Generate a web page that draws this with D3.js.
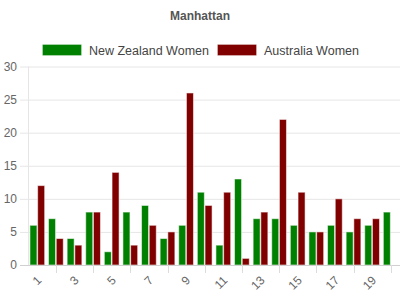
<!DOCTYPE html>
<html>
<head>
<meta charset="utf-8">
<script src="https://cdn.jsdelivr.net/npm/d3@7"></script>
<style>
  body { margin: 0; background: #fff; }
  text { font-family: "Liberation Sans", Arial, sans-serif; }
</style>
</head>
<body>
<script>
// chart data
var overs = ["1","2","3","4","5","6","7","8","9","10","11","12","13","14","15","16","17","18","19","20"];
var nzWomen = [6, 7, 4, 8, 2, 8, 9, 4, 6, 11, 3, 13, 7, 7, 6, 5, 6, 5, 6, 8];
var ausWomen = [12, 4, 3, 8, 14, 3, 6, 5, 26, 9, 11, 1, 8, 22, 11, 5, 10, 7, 7, null];
var seriesNames = ["New Zealand Women", "Australia Women"];
var seriesColors = ["#008000", "#800000"];
var yTicks = [0, 5, 10, 15, 20, 25, 30];

var svgWidth = 400;
var svgHeight = 300;

var svg = d3.select("body")
    .append("svg")
    .attr("width", svgWidth)
    .attr("height", svgHeight);

// plot area edges
var plotLeft = 28, plotRight = 400, plotTop = 66.5, plotBottom = 265;

var x = d3.scaleBand()
    .domain(overs)
    .range([plotLeft, plotRight]);

var xInner = d3.scaleBand()
    .domain([0, 1])
    .range([0, x.bandwidth()])
    .paddingInner(0.09)
    .paddingOuter(0.25);

var y = d3.scaleLinear()
    .domain([0, 30])
    .range([plotBottom, plotTop]);

// title
svg.append("text")
    .attr("x", 200)
    .attr("y", 20)
    .attr("text-anchor", "middle")
    .style("font-size", "12px")
    .style("font-weight", "bold")
    .style("fill", "#555")
    .text("Manhattan");

// legend
var legendX = [42, 217];
seriesNames.forEach(function(name, i) {
    svg.append("rect")
        .attr("x", legendX[i] + 0.5)
        .attr("y", 44.5)
        .attr("width", 39)
        .attr("height", 11)
        .attr("fill", seriesColors[i])
        .attr("stroke", "#fff")
        .attr("stroke-opacity", 0.3);
    svg.append("text")
        .attr("x", legendX[i] + 47)
        .attr("y", 54.5)
        .style("font-size", "12.5px")
        .style("fill", "#444")
        .text(name);
});

// gridlines
var yg = svg.append("g")
    .attr("transform", "translate(400,0)")
    .call(d3.axisLeft(y).tickValues(yTicks).tickSize(380).tickFormat(""));
yg.select(".domain").remove();
yg.selectAll("line").attr("stroke", "#e6e6e6");

// y labels
svg.selectAll(".ylab")
    .data(yTicks)
    .enter()
    .append("text")
    .attr("class", "ylab")
    .attr("x", 17)
    .attr("y", d => y(d) + 4)
    .attr("text-anchor", "end")
    .style("font-size", "12px")
    .style("fill", "#666")
    .text(d => d);

// y axis line
svg.append("line")
    .attr("x1", plotLeft + 0.5).attr("x2", plotLeft + 0.5)
    .attr("y1", plotTop).attr("y2", plotBottom)
    .attr("stroke", "#e6e6e6");

// bars
var groups = svg.selectAll(".over")
    .data(overs)
    .enter()
    .append("g")
    .attr("class", "over")
    .attr("transform", d => `translate(${x(d)},0)`);

[nzWomen, ausWomen].forEach(function(vals, s) {
    groups.filter((d, i) => vals[i] != null)
        .append("rect")
        .attr("x", xInner(s))
        .attr("y", d => y(vals[overs.indexOf(d)]))
        .attr("width", xInner.bandwidth())
        .attr("height", d => plotBottom - y(vals[overs.indexOf(d)]))
        .attr("fill", seriesColors[s])
        .attr("stroke", "#fff")
        .attr("stroke-opacity", 0.55)
        .attr("stroke-width", 1);
});

// x axis baseline + ticks
svg.append("line")
    .attr("x1", 20).attr("x2", 400)
    .attr("y1", plotBottom + 0.5).attr("y2", plotBottom + 0.5)
    .attr("stroke", "#d0d0d0");

overs.forEach(function(o, i) {
    var cx = x(o) + x.bandwidth() / 2;
    if (i % 2 == 1) {
        svg.append("line")
            .attr("x1", Math.round(cx) + 0.5).attr("x2", Math.round(cx) + 0.5)
            .attr("y1", plotBottom).attr("y2", plotBottom + 8)
            .attr("stroke", "#dcdcdc");
    } else {
        svg.append("text")
            .attr("transform", `translate(${cx + 5},${plotBottom + 16}) rotate(-45)`)
            .attr("text-anchor", "end")
            .style("font-size", "12px")
            .style("fill", "#666")
            .text(o);
    }
});
</script>
</body>
</html>
